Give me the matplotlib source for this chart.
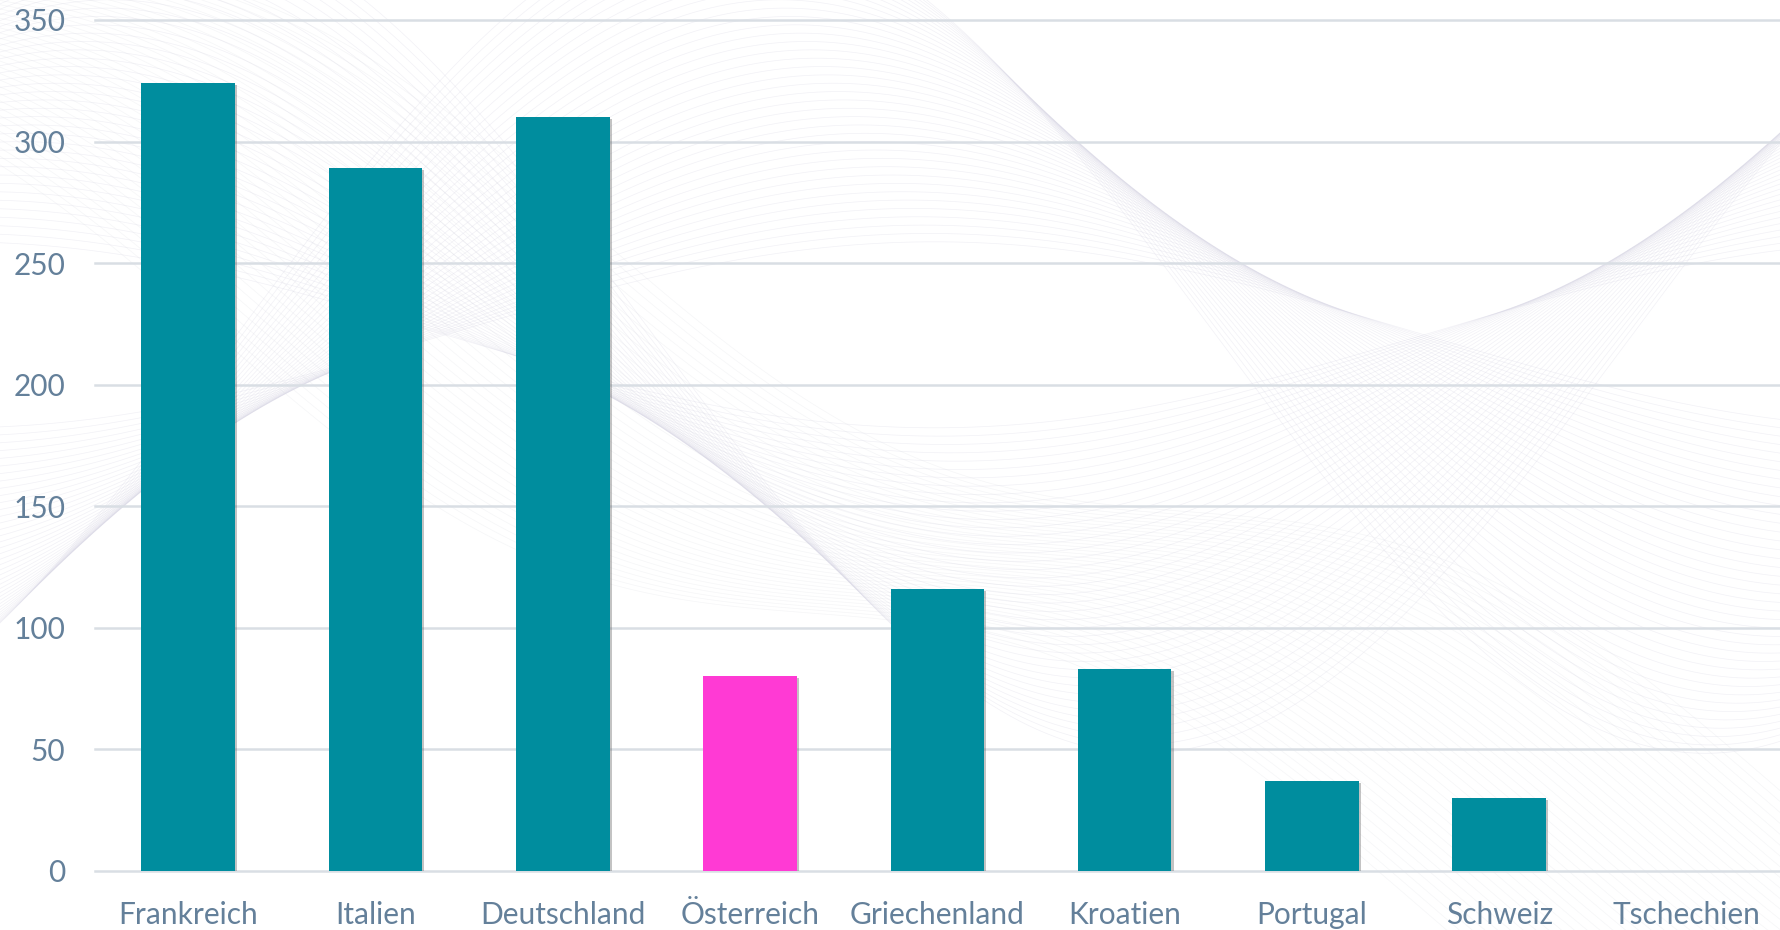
import numpy as np
import matplotlib.pyplot as plt
from matplotlib import patheffects as pe

laender = ['Frankreich', 'Italien', 'Deutschland', 'Österreich', 'Griechenland',
           'Kroatien', 'Portugal', 'Schweiz', 'Tschechien']
werte = [324, 289, 310, 80, 116, 83, 37, 30, 0]
hervorgehoben = 'Österreich'

teal = '#008D9E'
pink = '#FF3AD4'
textfarbe = '#64809A'
gitter = '#D9DEE4'

plt.rcParams['font.family'] = ['Lato', 'DejaVu Sans']

fig = plt.figure(figsize=(17.8, 9.3), dpi=100)

# faint guilloche lines in the background
bg = fig.add_axes([0, 0, 1, 1], zorder=0)
bg.set_xlim(0, 1)
bg.set_ylim(0, 1)
bg.axis('off')
x = np.linspace(0, 1, 600)
for i, a in enumerate(np.linspace(0.10, 0.45, 40)):
    for s in (1, -1):
        ph = 0.12 * (i / 40) * s
        y = 0.64 + s * a * np.sin(2 * np.pi * (x - 0.25 + ph) / 1.1)
        bg.plot(x, y, color='#d3d1e2', lw=0.5, alpha=0.3)
for k in np.linspace(0, 1, 40):
    y = 1.05 - 0.9 * x - 0.3 * k + 0.08 * np.sin(3 * np.pi * x + k * 2)
    bg.plot(x, y, color='#d8dae0', lw=0.5, alpha=0.25)

ax = fig.add_axes([0.0531, 0.0638, 0.947, 0.9147], zorder=1)
ax.patch.set_alpha(0)

farben = [pink if l == hervorgehoben else teal for l in laender]
pos = np.arange(len(laender))
bars = ax.bar(pos, werte, width=0.5, color=farben, zorder=3)
for b in bars:
    b.set_path_effects([pe.SimplePatchShadow(offset=(1.5, -1.5), shadow_rgbFace='#555555', alpha=0.35),
                        pe.Normal()])

ax.set_xlim(-0.5, len(laender) - 0.5)
ax.set_ylim(0, 350)
ax.set_yticks(range(0, 351, 50))
ax.set_xticks(pos)
ax.set_xticklabels(laender)
ax.yaxis.grid(True, color=gitter, lw=1.8, zorder=0)
for gl in ax.get_ygridlines():
    gl.set_clip_on(False)
ax.set_axisbelow(True)
for sp in ax.spines.values():
    sp.set_visible(False)
ax.tick_params(axis='both', length=0, labelsize=21.5, labelcolor=textfarbe)
ax.tick_params(axis='y', pad=21)
ax.tick_params(axis='x', pad=22)

fig.savefig('out.png', dpi=100)
